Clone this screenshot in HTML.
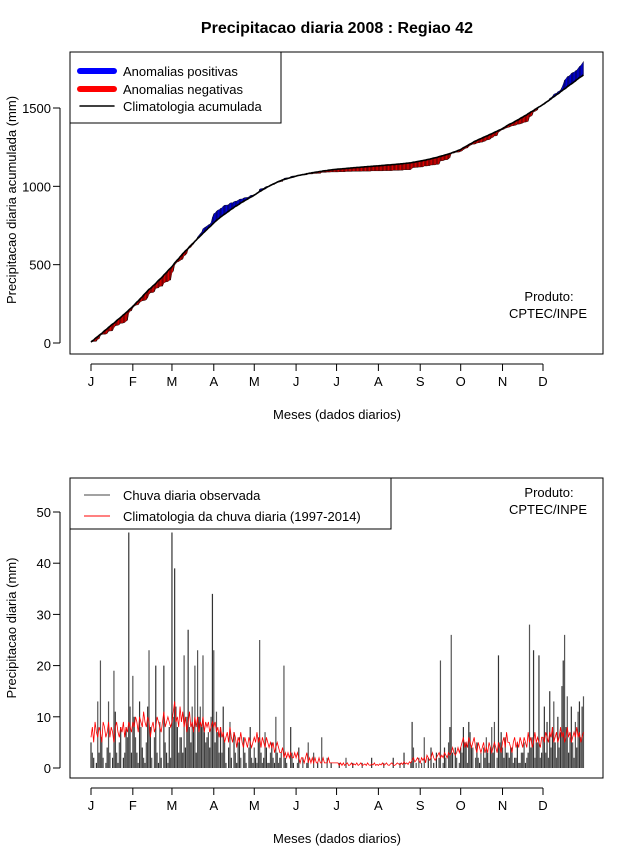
<!DOCTYPE html>
<html><head><meta charset="utf-8">
<style>
body{margin:0;background:#fff;}
svg{display:block;font-family:"Liberation Sans",sans-serif;}
</style></head>
<body>
<svg id="chart" width="640" height="850" viewBox="0 0 640 850" xmlns="http://www.w3.org/2000/svg">
<rect width="640" height="850" fill="#fff"/>
<text x="337" y="33" text-anchor="middle" font-size="16" font-weight="bold">Precipitacao diaria 2008 : Regiao 42</text>
<g id="topPanel"></g>
<g id="botPanel"></g>
</svg>
<script>
const monthLabels = ["J","F","M","A","M","J","J","A","S","O","N","D"];
const monthStartDays = [1,32,61,92,122,153,183,214,245,275,306,336];
const topTicks = [0,500,1000,1500];
const botTicks = [0,10,20,30,40,50];
const observed = [
 5,3,2,0,1,13,3,21,6,2,0,1,4,13,3,0,2,19,11,3,1,5,8,0,2,3,8,6,46,12,3,
 18,10,6,3,1,13,8,4,2,1,5,12,23,8,2,0,6,20,3,1,9,2,0,20,5,3,1,8,2,
 46,10,39,12,8,3,6,6,3,22,4,10,27,8,5,12,8,20,3,23,10,12,8,22,7,5,6,7,4,10,34,
 23,5,11,7,3,8,3,12,5,1,0,4,9,2,0,7,3,1,5,6,2,0,6,3,1,0,4,8,2,1,
 4,2,1,6,25,3,1,2,7,4,1,1,3,5,2,1,10,3,1,2,3,0,20,2,1,0,0,8,3,1,0,
 0,1,4,0,0,2,0,0,1,5,0,0,0,3,0,0,1,0,0,6,0,0,0,2,0,0,1,0,0,0,
 0,0,1,0,0,0,0,2,0,0,0,0,1,0,0,0,0,0,0,1,0,0,0,0,0,0,2,0,0,0,0,
 0,0,0,0,1,0,0,0,0,0,0,2,0,0,0,0,1,0,0,3,0,0,0,0,1,9,4,0,1,0,2,
 0,1,0,6,0,0,2,0,4,0,1,0,3,0,2,21,0,1,4,2,0,5,8,26,3,0,4,2,0,1,
 4,3,8,5,5,1,9,7,4,4,0,2,5,2,1,3,0,4,2,6,3,1,4,8,3,9,0,2,22,5,7,
 4,2,6,3,3,2,4,4,1,2,2,5,1,1,3,3,5,1,2,3,28,4,6,23,2,5,5,22,2,3,
 6,12,3,9,2,15,4,8,13,5,2,10,4,7,16,21,26,8,14,3,6,12,5,2,9,4,11,13,6,12,14];
const climatology = [
 6,8,5,9,7,6,8,7,5,9,8,6,7,9,6,8,7,5,8,9,7,6,8,7,9,6,8,7,9,8,7,
 9,8,10,9,7,10,9,8,11,9,8,10,9,6,8,9,7,8,10,9,8,7,9,11,8,9,10,9,8,
 9,11,13,9,10,8,12,9,11,8,10,7,9,11,8,9,7,10,8,10,7,9,8,10,7,9,8,9,7,8,9,
 8,9,7,8,6,8,6,7,5,6,7,5,8,6,5,7,6,4,6,5,7,5,4,6,5,4,6,5,4,5,
 6,5,7,5,6,4,6,5,4,6,5,4,5,4,5,3,4,5,4,3,3,4,2,3,2,3,2,3,2,2,3,
 2,3,2,1,2,2,1,2,3,1,2,1,2,1,2,1,1,2,1,1,2,1,1,1,2,1,1,1,1,1,
 1,1,0.5,1,0.5,1,0.5,0.8,1,0.5,0.6,1,0.5,0.8,0.6,1,0.5,0.7,1,0.5,0.6,0.8,0.5,1,0.6,0.5,0.8,0.6,1,0.5,0.7,
 0.5,0.8,0.6,1,0.5,0.7,1,0.6,0.5,0.8,1,0.6,0.5,0.7,1,0.8,0.6,1,0.7,1.2,0.8,1,0.7,1.2,1,1.5,2,1.2,1.5,2,1.5,
 1,2,1.5,2,1,2.5,2,1.5,2,3,2,1.5,2,2.5,3,2,2.5,2,3,2.5,2,3,2.5,3,4,3,2.5,3,4,3,
 4,5,6,4,5,4,6,5,4,5,6,4,3,5,4,3,4,5,3,4,3,5,4,3,4,5,4,3,5,4,3,
 5,6,4,7,5,5,4,3,5,6,4,5,4,6,5,4,6,5,4,7,5,6,4,5,7,5,6,5,4,6,
 6,5,7,6,5,7,6,8,5,6,7,5,6,8,6,7,5,6,8,6,7,5,6,7,6,8,6,7,5,6,7];

const NS="http://www.w3.org/2000/svg";
function mk(parent,tag,attrs,text){const e=document.createElementNS(NS,tag);for(const k in attrs)e.setAttribute(k,attrs[k]);if(text!==undefined)e.textContent=text;parent.appendChild(e);return e;}
const xDay = d => 91 + (d-1)*(452/335);
const yTop = v => 343 - v*0.15667;
const yBot = v => 768 - v*5.12;

function axes(g,y0,y1,yLabelFn,ticks,yTitle,yTitleY,xAxisY){
  const box=mk(g,'rect',{x:70,y:y0,width:533,height:y1-y0,fill:'none',stroke:'#000','stroke-width':1});
  
  
  const ya=mk(g,'line',{x1:60,x2:60,y1:yLabelFn(ticks[0]),y2:yLabelFn(ticks[ticks.length-1]),stroke:'#000'});
  
  
  ticks.forEach(t=>{
    mk(g,'line',{x1:53,x2:60,y1:yLabelFn(t),y2:yLabelFn(t),stroke:'#000'});
    const tl=mk(g,'text',{x:51,y:yLabelFn(t)+5,'text-anchor':'end','font-size':13},t);
    
    
  });
  const yt=mk(g,'text',{x:0,y:0,'text-anchor':'middle','font-size':13,transform:`translate(16,${yTitleY}) rotate(-90)`},yTitle);
  
  
  const xa=mk(g,'line',{x1:xDay(1),x2:xDay(336),y1:xAxisY,y2:xAxisY,stroke:'#000'});
  
  
  monthStartDays.forEach((d,i)=>{
    mk(g,'line',{x1:xDay(d),x2:xDay(d),y1:xAxisY,y2:xAxisY+7,stroke:'#000'});
    const ml=mk(g,'text',{x:xDay(d),y:xAxisY+22,'text-anchor':'middle','font-size':13},monthLabels[i]);
    
    
  });
  const xt=mk(g,'text',{x:337,y:xAxisY+55,'text-anchor':'middle','font-size':13},'Meses (dados diarios)');
  
  
}

// top panel
const topG=document.getElementById('topPanel');
let co=[],cc=[],so=0,sc=0;
for(let i=0;i<observed.length;i++){so+=observed[i];sc+=climatology[i];co.push(so);cc.push(sc);}
for(let i=0;i<co.length-1;i++){
  const d=i+1;
  const pos=(co[i]+co[i+1])>(cc[i]+cc[i+1]);
  const p=mk(topG,'polygon',{points:`${xDay(d)},${yTop(co[i])} ${xDay(d+1)},${yTop(co[i+1])} ${xDay(d+1)},${yTop(cc[i+1])} ${xDay(d)},${yTop(cc[i])}`,fill:pos?'#0000ff':'#ff0000',stroke:'#000','stroke-width':0.4});
  
  
}
const cl=mk(topG,'polyline',{points:cc.map((v,i)=>`${xDay(i+1)},${yTop(v)}`).join(' '),fill:'none',stroke:'#000','stroke-width':1.6});


axes(topG,52,354,yTop,topTicks,'Precipitacao diaria acumulada (mm)',200,364);
const lg=mk(topG,'g',{});


mk(lg,'rect',{x:70,y:52,width:211,height:71,fill:'#fff',stroke:'#000'});
[['#0000ff',6,'Anomalias positivas',71],['#ff0000',6,'Anomalias negativas',89],['#000',1.5,'Climatologia acumulada',106]].forEach(l=>{
  mk(lg,'line',{x1:80,x2:114,y1:l[3],y2:l[3],stroke:l[0],'stroke-width':l[1],'stroke-linecap':'round'});
  const t=mk(lg,'text',{x:123,y:l[3]+5,'font-size':13},l[2]);
  
  
});
mk(topG,'text',{x:549,y:301,'text-anchor':'middle','font-size':13},'Produto:');
mk(topG,'text',{x:548,y:318,'text-anchor':'middle','font-size':13},'CPTEC/INPE');

// bottom panel
const botG=document.getElementById('botPanel');
observed.forEach((v,i)=>{
  if(v<=0)return;
  const b=mk(botG,'line',{x1:xDay(i+1),x2:xDay(i+1),y1:yBot(0),y2:yBot(v),stroke:i%2?'#555':'#333','stroke-width':1.2});
  
  
});
const rl=mk(botG,'polyline',{points:climatology.map((v,i)=>`${xDay(i+1)},${yBot(v)}`).join(' '),fill:'none',stroke:'#ff0000','stroke-width':0.8});


axes(botG,478,778,yBot,botTicks,'Precipitacao diaria (mm)',628,788);
const lg2=mk(botG,'g',{});


mk(lg2,'rect',{x:70,y:478,width:321,height:51,fill:'#fff',stroke:'#000'});
[['#444','Chuva diaria observada',495],['#ff0000','Climatologia da chuva diaria (1997-2014)',516]].forEach(l=>{
  mk(lg2,'line',{x1:84,x2:110,y1:l[2],y2:l[2],stroke:l[0],'stroke-width':1});
  const t=mk(lg2,'text',{x:123,y:l[2]+5,'font-size':13},l[1]);
  
  
});
mk(botG,'text',{x:549,y:497,'text-anchor':'middle','font-size':13},'Produto:');
mk(botG,'text',{x:548,y:514,'text-anchor':'middle','font-size':13},'CPTEC/INPE');
</script>
</body></html>
